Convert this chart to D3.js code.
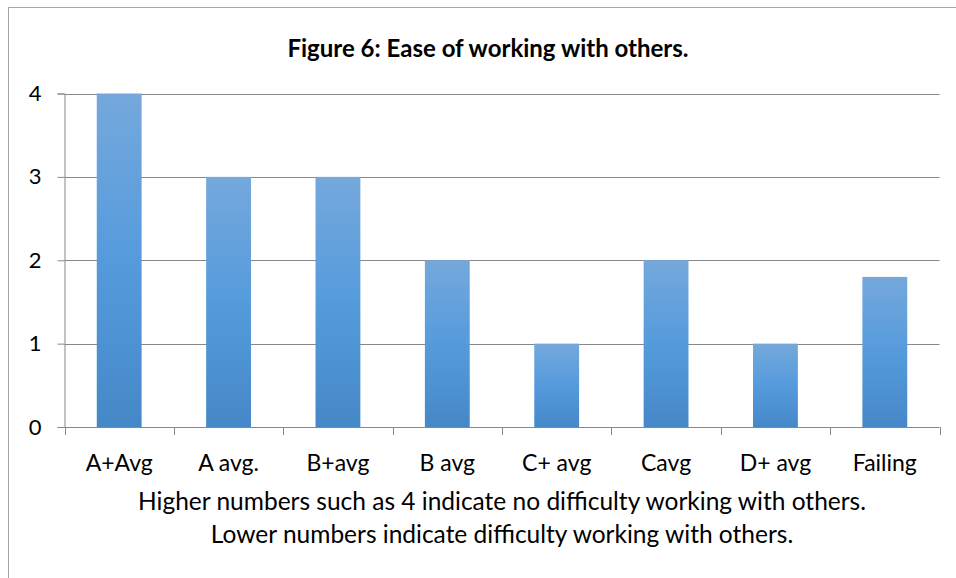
<!DOCTYPE html>
<html>
<head>
<meta charset="utf-8">
<script src="https://cdn.jsdelivr.net/npm/d3@7"></script>
<style>
  html, body { margin: 0; padding: 0; background: #fff; }
  svg { display: block; font-family: Lato, "Open Sans", sans-serif; }
</style>
</head>
<body>
<svg id="chart" width="956" height="578"></svg>
<script>
// Figure 6 data: ease of working with others, by grade average.
const categories = ["A+Avg", "A avg.", "B+avg", "B avg", "C+ avg", "Cavg", "D+ avg", "Failing"];
const values = [4, 3, 3, 2, 1, 2, 1, 1.8];
const yTicks = [0, 1, 2, 3, 4];
const title = "Figure 6: Ease of working with others.";
const caption = [
  "Higher numbers such as 4 indicate no difficulty working with others.",
  "Lower numbers indicate difficulty working with others."
];

const svg = d3.select("#chart");
const plotL = 64.5, plotR = 939.5, plotT = 93.5, plotB = 427;

// outer chart frame (runs off the right/bottom of the picture)
svg.append("rect")
  .attr("x", 8.5).attr("y", 7.5)
  .attr("width", 1000).attr("height", 1000)
  .attr("fill", "none").attr("stroke", "#a6a6a6");

const defs = svg.append("defs");
const grad = defs.append("linearGradient")
  .attr("id", "barGrad").attr("x1", 0).attr("y1", 0).attr("x2", 0).attr("y2", 1);
grad.append("stop").attr("offset", "0%").attr("stop-color", "#75a8dc");
grad.append("stop").attr("offset", "50%").attr("stop-color", "#559bdc");
grad.append("stop").attr("offset", "100%").attr("stop-color", "#4588c8");

const x = d3.scaleBand().domain(categories).range([plotL, plotR]).paddingInner(0).paddingOuter(0);
const y = d3.scaleLinear().domain([0, 4]).range([plotB, plotT]);

// gridlines
svg.append("g")
  .selectAll("line")
  .data(yTicks.filter((d) => d > 0))
  .join("line")
  .attr("x1", plotL).attr("x2", plotR)
  .attr("y1", (d) => Math.round(y(d)) + 0.5).attr("y2", (d) => Math.round(y(d)) + 0.5)
  .attr("stroke", "#888").attr("stroke-width", 1);

// y axis
const yAxis = svg.append("g")
  .attr("transform", `translate(${plotL},0)`)
  .call(d3.axisLeft(y).tickValues(yTicks).tickSize(7).tickPadding(16).tickFormat(d3.format("d")));
yAxis.select(".domain").attr("stroke", "#888");
yAxis.selectAll(".tick line").attr("stroke", "#888");
yAxis.selectAll(".tick text")
  .attr("fill", "#000").style("font-size", "22px")
  .style("font-family", "Lato, sans-serif");

// bars
const barW = x.bandwidth() * 0.41;
svg.append("g")
  .selectAll("rect")
  .data(values)
  .join("rect")
  .attr("x", (d, i) => x(categories[i]) + (x.bandwidth() - barW) / 2)
  .attr("y", (d) => y(d))
  .attr("width", barW)
  .attr("height", (d) => y(0) - y(d))
  .attr("fill", "url(#barGrad)");

// x axis: ticks at category boundaries
const xAxis = svg.append("g").attr("transform", `translate(0,${plotB})`);
xAxis.append("line")
  .attr("x1", plotL).attr("x2", plotR).attr("y1", 0.5).attr("y2", 0.5)
  .attr("stroke", "#888");
xAxis.selectAll("line.tick")
  .data(categories.concat([null]))
  .join("line")
  .attr("class", "tick")
  .attr("x1", (d, i) => Math.round(plotL + i * x.step()) + 0.5)
  .attr("x2", (d, i) => Math.round(plotL + i * x.step()) + 0.5)
  .attr("y1", 0).attr("y2", 8)
  .attr("stroke", "#888");
xAxis.selectAll("text")
  .data(categories)
  .join("text")
  .attr("x", (d) => x(d) + x.bandwidth() / 2)
  .attr("y", 44)
  .attr("text-anchor", "middle")
  .style("font-size", "23px")
  .attr("fill", "#000")
  .text((d) => d);

// title
svg.append("text")
  .attr("x", 488).attr("y", 57)
  .attr("text-anchor", "middle")
  .style("font-size", "24px").style("font-weight", "bold")
  .text(title);

// caption under the axis
svg.append("g")
  .selectAll("text")
  .data(caption)
  .join("text")
  .attr("x", (plotL + plotR) / 2)
  .attr("y", (d, i) => 510 + i * 33)
  .attr("text-anchor", "middle")
  .style("font-size", "24.5px")
  .text((d) => d);
</script>
</body>
</html>
